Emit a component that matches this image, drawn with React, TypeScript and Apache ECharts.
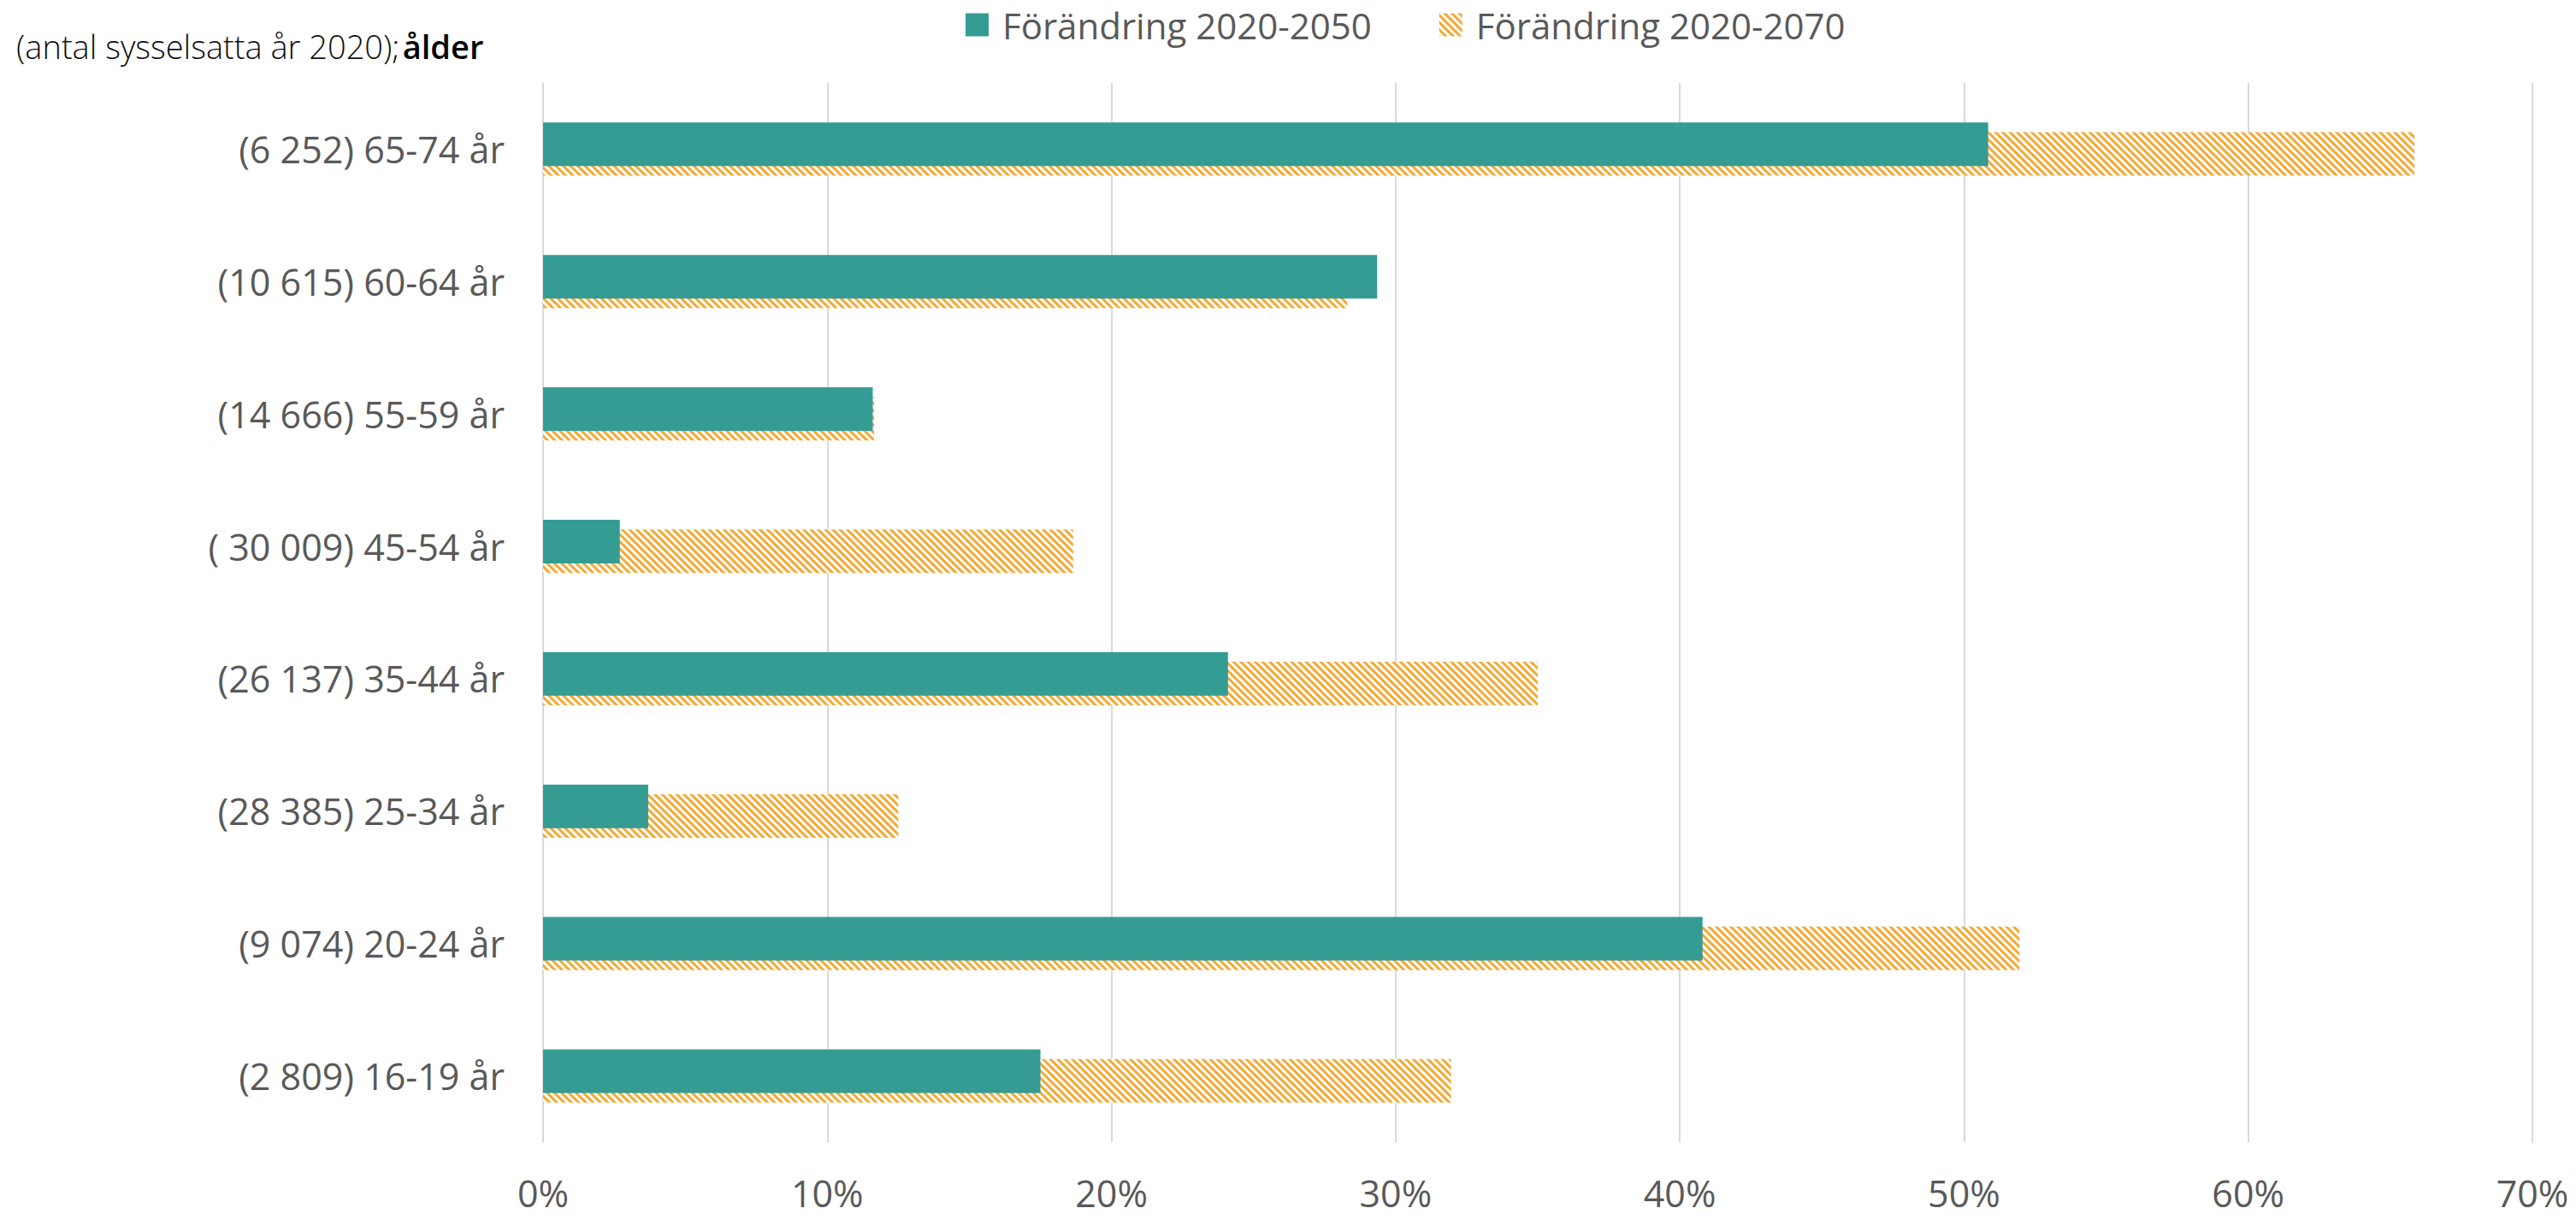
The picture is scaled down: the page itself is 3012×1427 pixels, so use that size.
import React, { useEffect, useRef } from "react";
import * as echarts from "echarts";

const categories = [
  "(6 252) 65-74 år",
  "(10 615) 60-64 år",
  "(14 666) 55-59 år",
  "( 30 009) 45-54 år",
  "(26 137) 35-44 år",
  "(28 385) 25-34 år",
  "(9 074) 20-24 år",
  "(2 809) 16-19 år",
];
const change2050 = [50.85, 29.35, 11.6, 2.7, 24.1, 3.7, 40.8, 17.5];
const change2070 = [65.85, 28.3, 11.65, 18.65, 35.0, 12.5, 51.95, 31.95];
const seriesNames = ["Förändring 2020-2050", "Förändring 2020-2070"];
const xTicks = { min: 0, max: 70, interval: 10 };

const TEAL = "#359C93";
const ORANGE = "#F5A833";
const GREY_TEXT = "#595959";
const FONT = "'Open Sans', sans-serif";

export default function App() {
  const ref = useRef<HTMLDivElement>(null);
  useEffect(() => {
    if (!ref.current) return;
    const chart = echarts.init(ref.current, null, { renderer: "svg" });
    chart.setOption({
      animation: false,
      backgroundColor: "#ffffff",
      textStyle: { fontFamily: FONT },
      legend: {
        top: 8,
        left: 1129,
        itemWidth: 27,
        itemHeight: 27,
        itemGap: 79,
        padding: 0,
        icon: "rect",
        textStyle: {
          fontSize: 42,
          color: GREY_TEXT,
          fontFamily: FONT,
          padding: [0, 0, 0, 11],
        },
        data: seriesNames,
      },
      graphic: [
        {
          type: "text",
          left: 19,
          top: 35,
          style: {
            text: "{a|(antal sysselsatta år 2020);} {b|ålder}",
            rich: {
              a: { fontSize: 38, fontFamily: FONT, fill: "#111111", fontWeight: 300 },
              b: { fontSize: 38, fontFamily: FONT, fill: "#000000", fontWeight: 600 },
            },
          },
        },
      ],
      grid: { left: 635, right: 51, top: 97, bottom: 91, containLabel: false },
      xAxis: {
        type: "value",
        min: xTicks.min,
        max: xTicks.max,
        interval: xTicks.interval,
        axisLine: { show: false },
        axisTick: { show: false },
        splitLine: { show: true, lineStyle: { color: "#D9D9D9", width: 2 } },
        axisLabel: {
          formatter: "{value}%",
          fontSize: 43,
          lineHeight: 43,
          color: GREY_TEXT,
          fontFamily: FONT,
          margin: 38,
        },
      },
      yAxis: {
        type: "category",
        inverse: true,
        data: categories,
        axisLine: { show: false },
        axisTick: { show: false },
        splitLine: { show: false },
        axisLabel: {
          fontSize: 43,
          color: GREY_TEXT,
          fontFamily: FONT,
          margin: 45,
        },
      },
      series: [
        {
          name: seriesNames[0],
          type: "bar",
          data: change2050,
          barWidth: 51,
          barGap: "-78%",
          z: 3,
          itemStyle: { color: TEAL },
        },
        {
          name: seriesNames[1],
          type: "bar",
          data: change2070,
          barWidth: 51,
          barGap: "-78%",
          z: 2,
          itemStyle: {
            color: "#ffffff",
            decal: {
              symbol: "rect",
              symbolSize: 1,
              dashArrayX: [1, 0],
              dashArrayY: [2.1, 2.1],
              rotation: Math.PI / 4,
              color: ORANGE,
              backgroundColor: "#ffffff",
            },
          },
        },
      ],
    });
    return () => chart.dispose();
  }, []);
  return (
    <div
      ref={ref}
      style={{ position: "fixed", left: 0, top: 0, width: 3012, height: 1427 }}
    />
  );
}
